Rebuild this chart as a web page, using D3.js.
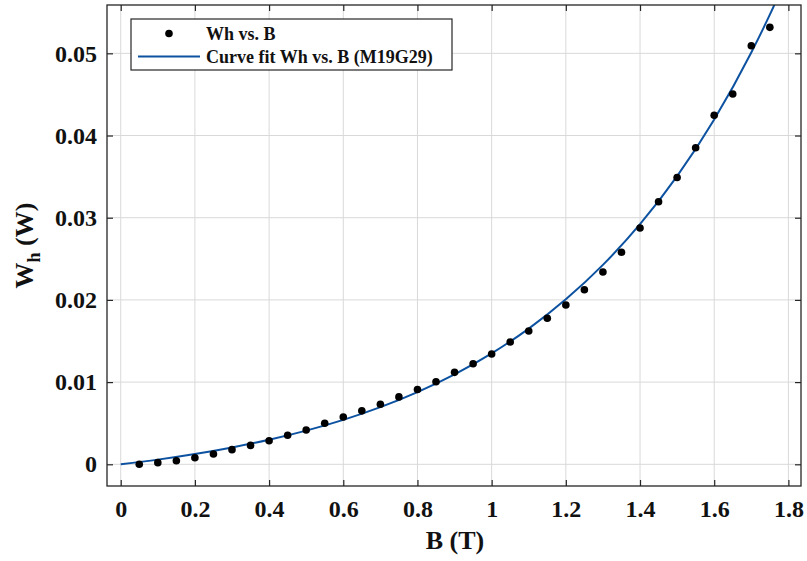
<!DOCTYPE html>
<html>
<head>
<meta charset="utf-8">
<script src="https://cdn.jsdelivr.net/npm/d3@7/dist/d3.min.js"></script>
<style>
  html, body { margin: 0; padding: 0; background: #fff; }
  svg { display: block; }
  text { font-family: "Liberation Serif", "Times New Roman", serif; font-weight: bold; fill: #111; }
</style>
</head>
<body>
<svg id="chart" width="807" height="561"></svg>
<script>
// Measured hysteresis loss Wh (W) against flux density B (T)
const fluxB = [0.05, 0.10, 0.15, 0.20, 0.25, 0.30, 0.35, 0.40, 0.45, 0.50,
               0.55, 0.60, 0.65, 0.70, 0.75, 0.80, 0.85, 0.90, 0.95, 1.00,
               1.05, 1.10, 1.15, 1.20, 1.25, 1.30, 1.35, 1.40, 1.45, 1.50,
               1.55, 1.60, 1.65, 1.70, 1.75];
const lossWh = [0.0000, 0.0002, 0.00044, 0.0008, 0.00125, 0.00178, 0.0023, 0.00287, 0.00353, 0.00417,
                0.0050, 0.00575, 0.0065, 0.0073, 0.0082, 0.0091, 0.01005, 0.01119, 0.01224, 0.01342,
                0.01488, 0.01622, 0.01776, 0.01938, 0.02124, 0.0234, 0.0258, 0.02875, 0.03195, 0.0349,
                0.03852, 0.04246, 0.04505, 0.05092, 0.05316];

// Fitted curve (M19G29), sampled along B
const fitB  = [0, 0.1, 0.2, 0.3, 0.4, 0.5, 0.6, 0.7, 0.8, 0.9, 1.0,
               1.1, 1.2, 1.3, 1.4, 1.5, 1.6, 1.7, 1.75, 1.8];
const fitWh = [0, 0.00057, 0.00125, 0.00205, 0.00299, 0.0041, 0.00541, 0.00696, 0.00879, 0.01095, 0.0135,
               0.01651, 0.02007, 0.02426, 0.02921, 0.03506, 0.04196, 0.05011, 0.0547, 0.05974];

const xTicks = [0, 0.2, 0.4, 0.6, 0.8, 1, 1.2, 1.4, 1.6, 1.8];
const yTicks = [0, 0.01, 0.02, 0.03, 0.04, 0.05];

const legendLabels = ["Wh vs. B", "Curve fit Wh vs. B (M19G29)"];

const svg = d3.select("#chart");
const L = 107, R = 801, T = 5, B = 486;

const x = d3.scaleLinear().domain([-0.037, 1.834]).range([L, R]);
const y = d3.scaleLinear().domain([-0.00264, 0.05588]).range([B, T]);

const axisColor = "#262626";
const gridColor = "#d9d9d9";
const fitColor = "#0d52a0";

// grid
const grid = svg.append("g");
grid.selectAll("line.gx").data(xTicks).join("line")
  .attr("x1", d => x(d)).attr("x2", d => x(d))
  .attr("y1", T).attr("y2", B)
  .attr("stroke", gridColor).attr("stroke-width", 1);
grid.selectAll("line.gy").data(yTicks).join("line")
  .attr("x1", L).attr("x2", R)
  .attr("y1", d => y(d)).attr("y2", d => y(d))
  .attr("stroke", gridColor).attr("stroke-width", 1);

// clip region for the data
svg.append("defs").append("clipPath").attr("id", "plotArea")
  .append("rect").attr("x", L).attr("y", T).attr("width", R - L).attr("height", B - T);

// fit curve
const line = d3.line().x((d, i) => x(fitB[i])).y((d, i) => y(fitWh[i])).curve(d3.curveMonotoneX);
svg.append("path")
  .attr("clip-path", "url(#plotArea)")
  .attr("d", line(fitB))
  .attr("fill", "none")
  .attr("stroke", fitColor)
  .attr("stroke-width", 2);

// measured points
svg.append("g").attr("clip-path", "url(#plotArea)")
  .selectAll("circle").data(fluxB).join("circle")
  .attr("cx", (d) => x(d))
  .attr("cy", (d, i) => y(lossWh[i]))
  .attr("r", 3.8)
  .attr("fill", "#000");

// axes: ticks point inward on all four sides
const tickLen = 6;
const xAxisB = d3.axisBottom(x).tickValues(xTicks).tickSize(-tickLen).tickPadding(14).tickFormat(d3.format("~g"));
const xAxisT = d3.axisTop(x).tickValues(xTicks).tickSize(-tickLen).tickFormat("");
const yAxisL = d3.axisLeft(y).tickValues(yTicks).tickSize(-tickLen).tickPadding(10).tickFormat(d3.format("~g"));
const yAxisR = d3.axisRight(y).tickValues(yTicks).tickSize(-tickLen).tickFormat("");

function styleAxis(g) {
  g.select(".domain").remove();
  g.selectAll(".tick line").attr("stroke", axisColor).attr("stroke-width", 1.2);
  g.selectAll(".tick text").style("font-size", "24px").style("font-family", "Liberation Serif, serif")
    .style("font-weight", "bold").attr("fill", "#111");
}
svg.append("g").attr("transform", `translate(0,${B})`).call(xAxisB).call(styleAxis);
svg.append("g").attr("transform", `translate(0,${T})`).call(xAxisT).call(styleAxis);
svg.append("g").attr("transform", `translate(${L},0)`).call(yAxisL).call(styleAxis);
svg.append("g").attr("transform", `translate(${R},0)`).call(yAxisR).call(styleAxis);

// frame
svg.append("rect").attr("x", L).attr("y", T).attr("width", R - L).attr("height", B - T)
  .attr("fill", "none").attr("stroke", axisColor).attr("stroke-width", 1.3);

// axis titles
svg.append("text").attr("x", 455).attr("y", 549).attr("text-anchor", "middle")
  .style("font-size", "26px").text("B (T)");
const yt = svg.append("text").attr("transform", `translate(33,${(T + B) / 2}) rotate(-90)`)
  .attr("text-anchor", "middle").style("font-size", "26px");
yt.append("tspan").text("W");
yt.append("tspan").attr("dy", 7).style("font-size", "18px").text("h");
yt.append("tspan").attr("dy", -7).text(" (W)");

// legend
const lg = svg.append("g");
lg.append("rect").attr("x", 131).attr("y", 19).attr("width", 321).attr("height", 51)
  .attr("fill", "#fff").attr("stroke", axisColor).attr("stroke-width", 1.2);
lg.append("circle").attr("cx", 169).attr("cy", 33.5).attr("r", 3.8).attr("fill", "#000");
lg.append("line").attr("x1", 138).attr("x2", 200).attr("y1", 56.5).attr("y2", 56.5)
  .attr("stroke", fitColor).attr("stroke-width", 2);
lg.selectAll("text").data(legendLabels).join("text")
  .attr("x", 206).attr("y", (d, i) => 39.5 + i * 23)
  .style("font-size", "18px").text(d => d);
</script>
</body>
</html>
